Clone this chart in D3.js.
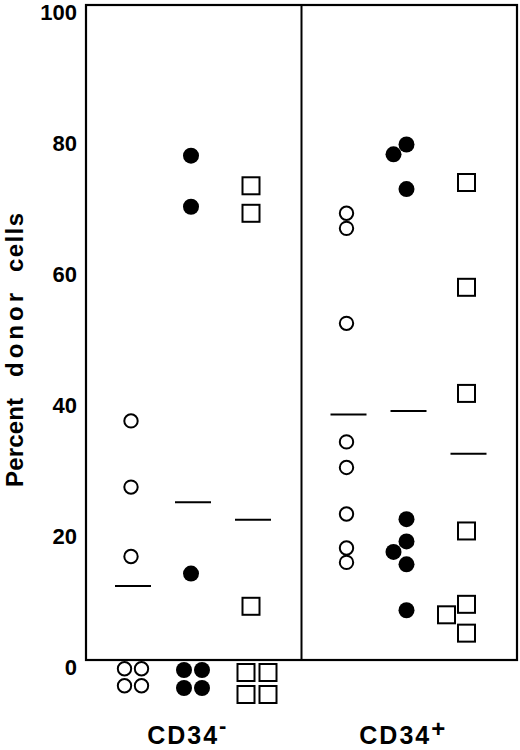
<!DOCTYPE html>
<html>
<head>
<meta charset="utf-8">
<script src="https://cdn.jsdelivr.net/npm/d3@7"></script>
<style>
  html, body { margin: 0; padding: 0; background: #fff; }
  svg { display: block; }
</style>
</head>
<body>
<svg id="chart" width="520" height="750"></svg>
<script>
// ---- data ----
const panels = ["CD34-", "CD34+"];
const groups = ["open", "filled", "square"];
const cd34negOpen   = [36.5, 26.4, 15.8, 0, 0, 0, 0];
const cd34negFilled = [77.0, 69.2, 13.2, 0, 0, 0, 0];
const cd34negSquare = [72.4, 68.2, 8.2, 0, 0, 0, 0];
const cd34posOpen   = [68.2, 65.9, 51.4, 33.3, 29.4, 22.3, 17.1, 14.9];
const cd34posFilled = [78.7, 77.2, 71.9, 21.5, 18.1, 16.5, 14.6, 7.6];
const cd34posSquare = [72.9, 56.9, 40.7, 19.7, 8.5, 6.9, 4.1];
const cd34negMeans  = [11.3, 24.1, 21.4];
const cd34posMeans  = [37.5, 38.0, 31.5];
const yTicks = [0, 20, 40, 60, 80, 100];
const yLabelWords = ["Percent", "donor", "cells"];

const series = {
  "CD34-": { open: cd34negOpen, filled: cd34negFilled, square: cd34negSquare, means: cd34negMeans },
  "CD34+": { open: cd34posOpen, filled: cd34posFilled, square: cd34posSquare, means: cd34posMeans }
};

// ---- styles ----
const FONT = "'Liberation Sans', Arial, Helvetica, sans-serif";
const markerStyle = {
  open:   { shape: "circle", r: 6.7, fill: "#fff", stroke: "#000", sw: 2, pitch: 17, shift: -13 },
  filled: { shape: "circle", r: 8,   fill: "#000", stroke: "none", sw: 0, pitch: 18, shift: -13 },
  square: { shape: "square", r: 8.5, fill: "#fff", stroke: "#000", sw: 2, pitch: 22, shift: -20 }
};
// y-label word layout along the rotated baseline: [start, length]
const yLabelLayout = [[0, 89], [110, 84], [215, 59]];

const svg = d3.select("#chart");
const margin = { left: 86, right: 3, top: 5, bottom: 90 };
const W = 520, H = 750;

const x = d3.scaleBand().domain(panels).range([margin.left, W - margin.right]).padding(0);
const inner = d3.scalePoint().domain(groups).range([47, 167]);
const y = d3.scaleLinear().domain([0, 100]).range([H - margin.bottom, margin.top]);

// frame
const g = svg.append("g");
g.append("rect")
  .attr("x", x.range()[0]).attr("y", y(100))
  .attr("width", x.range()[1] - x.range()[0]).attr("height", y(0) - y(100))
  .attr("fill", "none").attr("stroke", "#000").attr("stroke-width", 2.2);
g.append("line")
  .attr("x1", x(panels[1])).attr("x2", x(panels[1]))
  .attr("y1", y(100)).attr("y2", y(0))
  .attr("stroke", "#000").attr("stroke-width", 2);

// y axis labels (no tick marks)
const yAxis = d3.axisLeft(y).tickValues(yTicks).tickSize(0).tickPadding(9).tickFormat(d3.format("d"));
const ya = svg.append("g").attr("transform", `translate(${margin.left},0)`).call(yAxis);
ya.attr("font-family", FONT).attr("font-size", 22);
ya.select(".domain").remove();
ya.selectAll("text")
  .attr("font-weight", "bold")
  .attr("fill", "#000")
  .attr("dy", "0.68em");

// y label
const yl = svg.append("text")
  .attr("transform", `translate(23,${487}) rotate(-90)`)
  .attr("font-family", FONT)
  .attr("font-weight", "bold")
  .attr("font-size", 24);
yLabelWords.forEach((w, i) => {
  yl.append("tspan")
    .attr("x", yLabelLayout[i][0])
    .attr("y", 0)
    .attr("textLength", yLabelLayout[i][1])
    .attr("lengthAdjust", "spacing")
    .text(w);
});

// marks
function drawMarker(sel, st, cx, cy) {
  if (st.shape === "circle") {
    sel.append("circle").attr("cx", cx).attr("cy", cy).attr("r", st.r)
      .attr("fill", st.fill).attr("stroke", st.stroke).attr("stroke-width", st.sw);
  } else {
    sel.append("rect").attr("x", cx - st.r).attr("y", cy - st.r)
      .attr("width", 2 * st.r).attr("height", 2 * st.r)
      .attr("fill", st.fill).attr("stroke", st.stroke).attr("stroke-width", st.sw);
  }
}

panels.forEach(p => {
  const pg = svg.append("g");
  groups.forEach((grp, gi) => {
    const st = markerStyle[grp];
    const cx = x(p) + inner(grp);
    const vals = series[p][grp];
    // nonzero values: jitter left when overlapping previous unshifted point
    const nz = vals.filter(v => v > 0).slice().sort((a, b) => b - a);
    let lastY = -Infinity;
    nz.forEach(v => {
      const py = y(v);
      let dx = -2;
      if (Math.abs(py - lastY) < 13) { dx += st.shift; }
      else { lastY = py; }
      drawMarker(pg, st, cx + dx, py);
    });
    // zero values: 2x2 cluster below the axis
    const zeros = vals.filter(v => v === 0);
    const baseY = y(0) + st.r + (st.shape === "square" ? 4 : 2);
    const clusterX = cx + (st.shape === "square" ? 4 : 0);
    zeros.forEach((v, k) => {
      const col = k % 2, row = Math.floor(k / 2);
      drawMarker(pg, st, clusterX + (col - 0.5) * st.pitch, baseY + row * st.pitch);
    });
    // mean line
    const m = series[p].means[gi];
    pg.append("line")
      .attr("x1", cx - 18).attr("x2", cx + 18)
      .attr("y1", y(m)).attr("y2", y(m))
      .attr("stroke", "#000").attr("stroke-width", 2);
  });

  // panel label
  const lab = svg.append("text")
    .attr("x", x(p) + x.bandwidth() / 2 - 6)
    .attr("y", 744)
    .attr("text-anchor", "middle")
    .attr("font-family", FONT)
    .attr("font-weight", "bold")
    .attr("font-size", 25)
    .attr("letter-spacing", 2);
  lab.append("tspan").text(p.slice(0, 4));
  const sign = p.slice(4);
  lab.append("tspan")
    .attr("font-size", sign === "+" ? 24 : 22)
    .attr("dy", sign === "+" ? -7 : -11)
    .text(sign);
});
</script>
</body>
</html>
